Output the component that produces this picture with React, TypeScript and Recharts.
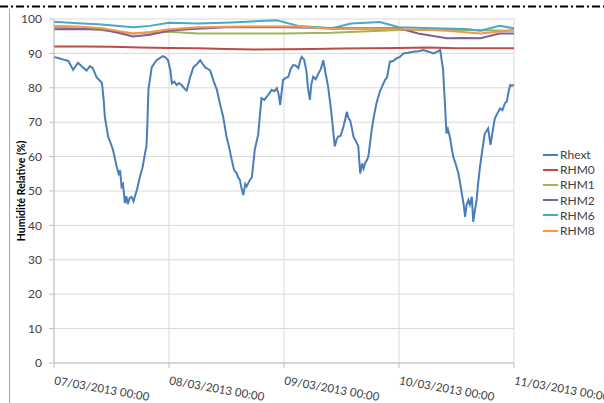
import React from "react";
import { LineChart, Line, XAxis, YAxis, CartesianGrid } from "recharts";

// hours since 07/03/2013 00:00
const xTickHours = [0, 24, 48, 72, 96];
const xTickLabels = [
  "07/03/2013 00:00",
  "08/03/2013 00:00",
  "09/03/2013 00:00",
  "10/03/2013 00:00",
  "11/03/2013 00:00",
];
const yTicks = [0, 10, 20, 30, 40, 50, 60, 70, 80, 90, 100];
const yTitle = "Humidité Relative (%)";

const rhext: [number, number][] = [
  [0, 89], [1, 88.6], [2, 88.2], [3, 87.8], [4, 85.2], [5, 87.3], [6, 86], [6.8, 85], [7.5, 86.3], [8.1, 85.7],
  [8.9, 83], [9.5, 82.2], [10, 81.4], [10.4, 76], [10.6, 71.6], [11.3, 65.8], [11.8, 64], [12.3, 62], [12.7, 59.5],
  [13.1, 57], [13.5, 55], [13.8, 56], [14.1, 51.3], [14.4, 52], [14.8, 46.5], [15.1, 48.5], [15.4, 46.2], [15.8, 48],
  [16.2, 48.3], [16.6, 47], [17, 49], [17.3, 50.3], [17.9, 54], [18.5, 57], [19, 61], [19.3, 63], [19.5, 70],
  [19.7, 79.4], [20.4, 86], [21.4, 88], [22.7, 89.2], [23.3, 88.8], [23.8, 88], [24.3, 85], [24.6, 81.3],
  [25.1, 81.8], [25.6, 80.8], [26.1, 81.4], [26.6, 80.8], [27.2, 79.8], [27.7, 79.2], [28.4, 83], [29.1, 86],
  [29.8, 86.8], [30.5, 88], [31, 87], [31.5, 86], [32, 85.6], [32.6, 85], [33.3, 82], [34, 79.4], [34.6, 75.6],
  [35.3, 71.6], [36, 65.8], [36.5, 63], [37.1, 59], [37.6, 56], [38.1, 55.2], [38.5, 53.8], [38.8, 53.2], [39.1, 51],
  [39.5, 48.8], [39.9, 52], [40.2, 51.3], [40.8, 53], [41.3, 54], [41.9, 62], [42.6, 66.3], [43.3, 77], [43.9, 76.5],
  [44.4, 77.4], [45, 78.5], [45.4, 79.4], [46, 79], [46.5, 79.9], [46.9, 78], [47.2, 75], [47.8, 82.3], [48.3, 82.8],
  [48.9, 83.2], [49.4, 85.5], [49.9, 86.6], [50.4, 86.5], [51, 85.7], [51.4, 88], [51.7, 89], [52.2, 88.2],
  [52.7, 84.7], [53, 80], [53.4, 76.5], [53.7, 81], [54.1, 83.2], [54.6, 82.5], [55.2, 84.2], [55.7, 85.5], [56.2, 88],
  [56.7, 84], [57.2, 80.4], [57.6, 76], [57.9, 72.6], [58.3, 67], [58.6, 63], [59, 65], [59.3, 65.8], [59.8, 66],
  [60.4, 68.7], [60.8, 71], [61.1, 73], [61.5, 71], [61.8, 70.6], [62.2, 68], [62.5, 65.8], [63, 64.5], [63.5, 63],
  [63.9, 55.1], [64.3, 58], [64.6, 56.5], [64.9, 58], [65.3, 59], [65.6, 60], [66.3, 67.7], [66.8, 72], [67.3, 75.5],
  [68, 78.9], [68.5, 80.5], [69.1, 82.3], [69.5, 83], [70.1, 87.6], [70.8, 87.8], [71.5, 88.6], [72.2, 89], [72.9, 90],
  [73.9, 90.2], [75, 90.5], [76, 90.6], [77.1, 91], [78.2, 90.5], [79.2, 90], [80, 90.5], [80.6, 91], [81.2, 85.2],
  [81.6, 75], [81.9, 66.7], [82.2, 68], [82.6, 65.8], [83.3, 60], [83.8, 58], [84.4, 55.1], [84.8, 52], [85.1, 49.3],
  [85.5, 46], [85.8, 42.5], [86.1, 46], [86.5, 47.4], [86.8, 46], [87.2, 48.3], [87.5, 41], [87.8, 44], [88.2, 47.4],
  [88.5, 52], [88.9, 57], [89.4, 62], [89.9, 66.7], [90.3, 67.5], [90.6, 68.2], [91.1, 63.4], [91.5, 67], [92, 71.1],
  [92.5, 72.5], [93.1, 74], [93.6, 73.5], [94.1, 75.5], [94.5, 76], [94.8, 78.4], [95.2, 80.8], [95.5, 80.6], [96, 80.8],
];

const rhm0: [number, number][] = [
  [0, 92], [6, 92], [12, 91.9], [18, 91.7], [24, 91.6], [30, 91.5], [36, 91.3], [42, 91.1], [48, 91.2],
  [54, 91.3], [60, 91.4], [66, 91.5], [72, 91.6], [78, 91.7], [84, 91.5], [90, 91.5], [96, 91.5],
];

const rhm1: [number, number][] = [
  [0, 97.6], [8, 97], [16.5, 95.8], [24, 96.3], [30, 95.8], [48, 95.8], [58, 96], [72, 96.8], [86, 96.8], [96, 96.6],
];

const rhm2: [number, number][] = [
  [0, 97], [5, 97.1], [10, 97], [14, 95.8], [16.5, 94.9], [20, 95.4], [24, 96.6], [28, 97], [36, 97.6], [48, 97.6],
  [60, 97.3], [72, 97.3], [76, 95.8], [82, 94.4], [86, 94.5], [89, 94.4], [93, 95.8], [96, 95.8],
];

const rhm6: [number, number][] = [
  [0, 99.2], [5, 98.8], [10, 98.4], [16.5, 97.6], [20, 98], [24, 98.9], [30, 98.7], [37, 99], [44, 99.5], [46.5, 99.6],
  [51, 98], [55, 97.6], [58, 97.3], [62, 98.7], [68, 99.1], [72, 97.6], [79, 97.3], [86, 97.1], [89, 96.6], [93, 98],
  [96, 97.3],
];

const rhm8: [number, number][] = [
  [0, 98], [5, 97.8], [10, 97.3], [16.5, 95.8], [20, 96.2], [24, 97], [30, 97.6], [40, 97.8], [51, 97.8], [58, 97.1],
  [65, 97.2], [72, 97], [79, 96.8], [82, 96.6], [89, 95.8], [93, 96.4], [96, 96.8],
];

const seriesNames = ["Rhext", "RHM0", "RHM1", "RHM2", "RHM6", "RHM8"];
const seriesValues = [rhext, rhm0, rhm1, rhm2, rhm6, rhm8];
const seriesColors = ["#4A7EBB", "#BE4B48", "#98B954", "#7D60A0", "#46AAC5", "#F79646"];

const FONT = "Lato, 'Liberation Sans', sans-serif";
const TEXT = "#404040";

const toRows = (pts: [number, number][]) => pts.map(([t, v]) => ({ t, v }));

const XTick = (props: any) => {
  const { x, y, payload } = props;
  const idx = xTickHours.indexOf(payload.value);
  return (
    <g transform={`translate(${x},${y - 5})`}>
      <text
        transform="rotate(10)"
        x={3}
        y={19}
        fontSize={11.5}
        fill={TEXT}
        fontFamily={FONT}
        textAnchor="start"
      >
        {xTickLabels[idx]}
      </text>
    </g>
  );
};

const YTitle = (props: any) => {
  const { viewBox } = props;
  const cx = 21;
  const cy = viewBox ? viewBox.y + viewBox.height / 2 : 191;
  return (
    <text
      x={cx}
      y={cy}
      transform={`rotate(-90, ${cx}, ${cy})`}
      textAnchor="middle"
      dominantBaseline="central"
      fontSize={10.5}
      fontWeight="bold"
      fill="#000"
      fontFamily={FONT}
    >
      {yTitle}
    </text>
  );
};

export default function App() {
  return (
    <div
      style={{
        position: "absolute",
        left: 0,
        top: 0,
        width: 604,
        height: 403,
        background: "#fff",
        overflow: "hidden",
      }}
    >
      <svg
        width={604}
        height={403}
        style={{ position: "absolute", left: 0, top: 0, pointerEvents: "none" }}
      >
        <line x1={0} y1={6.5} x2={604} y2={6.5} stroke="#000" strokeWidth={2} strokeDasharray="8 3 2 3" />
        <line x1={9.5} y1={9} x2={9.5} y2={403} stroke="#a6a6a6" strokeWidth={1} />
      </svg>
      <div style={{ position: "absolute", left: 0, top: 0 }}>
        <LineChart
          width={604}
          height={403}
          margin={{ top: 19, right: 90, bottom: 0, left: 14 }}
        >
          <CartesianGrid stroke="#d9d9d9" strokeWidth={1} />
          <XAxis
            type="number"
            dataKey="t"
            domain={[0, 96]}
            ticks={xTickHours}
            interval={0}
            height={40}
            tickSize={5}
            tickLine={{ stroke: "#bfbfbf" }}
            axisLine={{ stroke: "#bfbfbf" }}
            tick={<XTick />}
            allowDuplicatedCategory={false}
          />
          <YAxis
            type="number"
            domain={[0, 100]}
            ticks={yTicks}
            interval={0}
            width={40}
            tickSize={5}
            tickMargin={7}
            tickLine={{ stroke: "#bfbfbf" }}
            axisLine={{ stroke: "#bfbfbf" }}
            tick={{ fontSize: 12, fill: TEXT, fontFamily: FONT }}
            label={<YTitle />}
          />
          {seriesNames.map((name, i) => (
            <Line
              key={name}
              name={name}
              data={toRows(seriesValues[i])}
              dataKey="v"
              type="linear"
              stroke={seriesColors[i]}
              strokeWidth={2}
              dot={false}
              activeDot={false}
              isAnimationActive={false}
            />
          ))}
        </LineChart>
      </div>
      <div style={{ position: "absolute", left: 543, top: 147, fontFamily: FONT, fontSize: 12, color: TEXT }}>
        {seriesNames.map((name, i) => (
          <div key={name} style={{ display: "flex", alignItems: "center", height: 15.2 }}>
            <span style={{ display: "inline-block", width: 15, height: 2, background: seriesColors[i], marginRight: 2 }} />
            <span style={{ lineHeight: "15px" }}>{name}</span>
          </div>
        ))}
      </div>
    </div>
  );
}
